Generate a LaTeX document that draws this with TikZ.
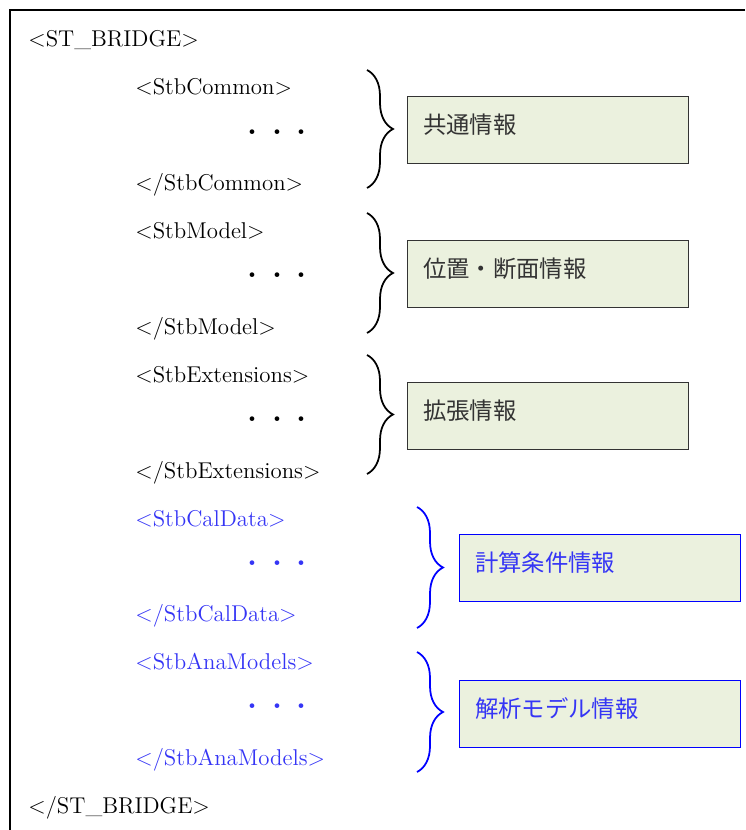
\documentclass[tikz,border=0pt]{standalone}
\usepackage{fontspec}
\newfontfamily\cjk{Noto Sans CJK JP}
\usepackage{tikz}
\usetikzlibrary{positioning, decorations.pathreplacing}
\usepackage{xcolor}
\definecolor{xblue}{HTML}{3535F5}
\definecolor{xgreen}{HTML}{EBF1DE}
\newcommand{\tagsize}{\fontsize{13}{15}\selectfont}
\newcommand{\boxsize}{\fontsize{13.3}{15}\selectfont}
\newcommand{\dotrow}{{\fontsize{12.5}{15}\selectfont\cjk ・\hspace{1.4pt}・\hspace{1.4pt}・}}
\tikzset{
	frame/.style={line width=1.1pt},
	tag/.style={anchor=base west, inner sep=0pt, font=\tagsize},
	dots/.style={anchor=center, inner sep=0pt},
	brace/.style={decorate, decoration={brace, amplitude=0.52cm}, line width=1pt},
	infobox/.style={draw=black!80, fill=xgreen, minimum width=5.62cm, minimum height=1.34cm,
		text width=4.98cm, inner xsep=0.32cm, inner ysep=0pt, align=left, text depth=7pt,
		font=\cjk\boxsize, text=black!80},
}

\begin{document}
\begin{tikzpicture}[x=0.02cm, y=-0.02cm]
		\useasboundingbox (0,0) rectangle (745,830);
		\draw[frame] (745,10) -- (10,10) -- (10,830);

		% root
		\node[tag] (root) at (28,47) {<ST\_BRIDGE>};
		\node[tag] (rootc) at (28,813.4) {</ST\_BRIDGE>};

		% StbCommon
		\node[tag] (cmo) at (135,94.9) {<StbCommon>};
		\node[dots] (cmd) at (277,134.8) {\dotrow};
		\node[tag] (cmc) at (135,190.7) {</StbCommon>};
		\coordinate (b1t) at (367,70);
		\coordinate (b1b) at (367,188);
		\draw[brace] (b1t) -- (b1b);
		\node[infobox] (i1) at (547.5,129.5) {共通情報};

		% StbModel
		\node[tag] (mdo) at (135,238.6) {<StbModel>};
		\node[dots] (mdd) at (277,278.5) {\dotrow};
		\node[tag] (mdc) at (135,334.4) {</StbModel>};
		\coordinate (b2t) at (367,213);
		\coordinate (b2b) at (367,333);
		\draw[brace] (b2t) -- (b2b);
		\node[infobox] (i2) at (547.5,273.5) {位置・断面情報};

		% StbExtensions
		\node[tag] (exo) at (135,382.3) {<StbExtensions>};
		\node[dots] (exd) at (277,422.2) {\dotrow};
		\node[tag] (exc) at (135,478.1) {</StbExtensions>};
		\coordinate (b3t) at (367,355);
		\coordinate (b3b) at (367,474);
		\draw[brace] (b3t) -- (b3b);
		\node[infobox] (i3) at (547.5,415.5) {拡張情報};

		% StbCalData
		\node[tag, text=xblue] (cdo) at (135,526) {<StbCalData>};
		\node[dots, text=xblue] (cdd) at (277,565.9) {\dotrow};
		\node[tag, text=xblue] (cdc) at (135,621.8) {</StbCalData>};
		\coordinate (b4t) at (417,507);
		\coordinate (b4b) at (417,628);
		\draw[brace, blue] (b4t) -- (b4b);
		\node[infobox, draw=blue, text=xblue] (i4) at (599.5,567.5) {計算条件情報};

		% StbAnaModels
		\node[tag, text=xblue] (amo) at (135,669.7) {<StbAnaModels>};
		\node[dots, text=xblue] (amd) at (277,709.6) {\dotrow};
		\node[tag, text=xblue] (amc) at (135,765.5) {</StbAnaModels>};
		\coordinate (b5t) at (417,652);
		\coordinate (b5b) at (417,772);
		\draw[brace, blue] (b5t) -- (b5b);
		\node[infobox, draw=blue, text=xblue] (i5) at (599.5,713.5) {解析モデル情報};
	\end{tikzpicture}
\end{document}
